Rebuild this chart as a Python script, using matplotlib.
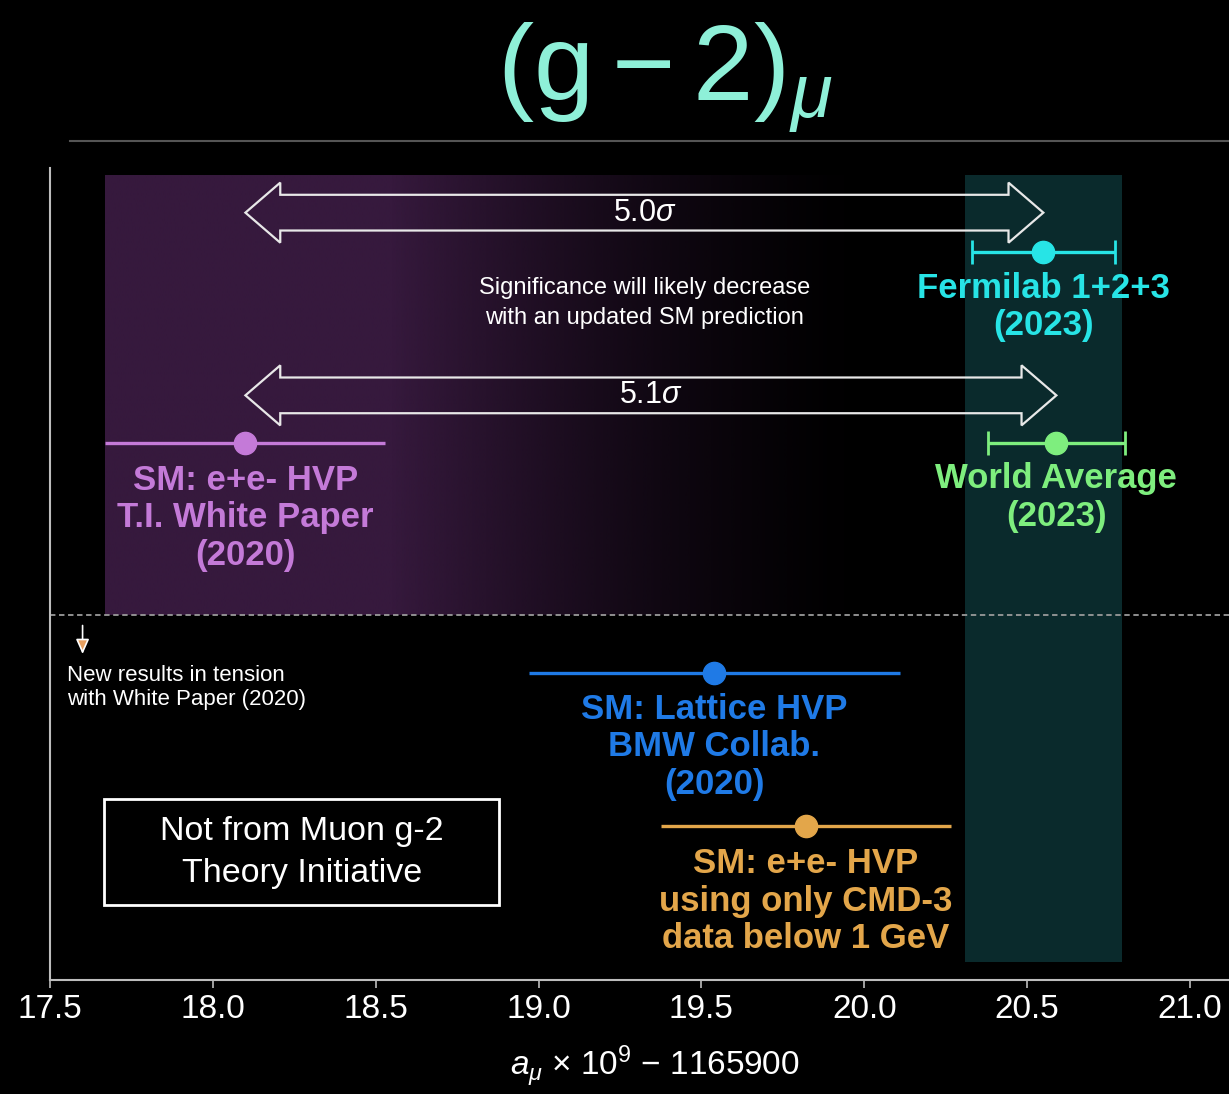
import numpy as np
import matplotlib
matplotlib.use("Agg")
import matplotlib.pyplot as plt
from matplotlib import font_manager
from matplotlib.patches import Polygon, Rectangle
from matplotlib.colors import to_rgb

# ---- data (a_mu x 1e9 - 1165900) ----
labels = [
    "Fermilab 1+2+3\n(2023)",
    "World Average\n(2023)",
    "SM: e+e- HVP\nT.I. White Paper\n(2020)",
    "SM: Lattice HVP\nBMW Collab.\n(2020)",
    "SM: e+e- HVP\nusing only CMD-3\ndata below 1 GeV",
]
values = [20.55, 20.59, 18.10, 19.54, 19.82]
errors = [0.22, 0.21, 0.43, 0.57, 0.445]
colors = ["#27e4e6", "#7eee7e", "#c47ad8", "#1f7ae6", "#e3a64a"]
has_caps = [True, True, False, False, False]

# row layout (vertical positions, arbitrary units)
rows = [8.97, 6.61, 6.61, 3.78, 1.90]
label_rows = [8.29, 5.94, 5.69, 2.87, 0.97]

sigma_labels = ["5.0$\\sigma$", "5.1$\\sigma$"]
sigma_pairs = [(2, 0), (2, 1)]   # (from, to) indexes into values
sigma_rows = [9.45, 7.20]

teal_band = (20.31, 20.79)
xticks = [17.5, 18.0, 18.5, 19.0, 19.5, 20.0, 20.5, 21.0]

# ---- fonts ----
names = {f.name for f in font_manager.fontManager.ttflist}
narrow = "Liberation Sans Narrow" if "Liberation Sans Narrow" in names else "Liberation Sans"
plt.rcParams["font.family"] = ["Liberation Sans", "DejaVu Sans"]
plt.rcParams["mathtext.fontset"] = "custom"
plt.rcParams["mathtext.rm"] = "Liberation Sans"
plt.rcParams["mathtext.it"] = "Liberation Sans:italic"

fig = plt.figure(figsize=(12.29, 10.94), dpi=100, facecolor="black")
ax = fig.add_axes([50 / 1229, 1 - 980 / 1094, 1 - 50 / 1229, (980 - 168) / 1094])
ax.set_facecolor("black")
ax.set_xlim(17.5, 21.12)
ax.set_ylim(0, 10)

# ---- background bands ----
ax.axvspan(teal_band[0], teal_band[1], ymin=0.022, ymax=0.991, color="#0a2a2c", lw=0, zorder=0)

wp_lo = values[2] - errors[2]
grad_x = np.linspace(wp_lo, teal_band[0], 400)
fade = np.clip((20.05 - grad_x) / (20.05 - 18.55), 0, 1) ** 1.5
purple = np.zeros((1, grad_x.size, 4))
purple[..., :3] = to_rgb("#36193d")
purple[..., 3] = fade
ax.imshow(purple, extent=[wp_lo, teal_band[0], 4.5, 9.91], aspect="auto",
          interpolation="bilinear", zorder=0.5)

ax.axhline(4.5, color="#9a9a9a", lw=1.3, ls=(0, (3, 2)), zorder=1)

# ---- significance arrows ----
head_len = 0.107
body_h = 0.22
head_h = 0.37
for lab, (i0, i1), yc in zip(sigma_labels, sigma_pairs, sigma_rows):
    x0, x1 = values[i0], values[i1]
    verts = [
        (x0, yc), (x0 + head_len, yc + head_h), (x0 + head_len, yc + body_h),
        (x1 - head_len, yc + body_h), (x1 - head_len, yc + head_h), (x1, yc),
        (x1 - head_len, yc - head_h), (x1 - head_len, yc - body_h),
        (x0 + head_len, yc - body_h), (x0 + head_len, yc - head_h),
    ]
    ax.add_patch(Polygon(verts, closed=True, fill=False, ec="#e8e8e8", lw=1.6, zorder=2))
    ax.text((x0 + x1) / 2, yc, lab, color="white", fontsize=22,
            ha="center", va="center", zorder=3)

ax.text((values[2] + values[0]) / 2, 8.34,
        "Significance will likely decrease\nwith an updated SM prediction",
        color="white", fontsize=17, ha="center", va="center", linespacing=1.45, zorder=3)

# ---- measurements ----
for lab, v, e, c, cap, y, ly in zip(labels, values, errors, colors, has_caps, rows, label_rows):
    ax.errorbar(v, y, xerr=e, fmt="o", color=c, ms=16, elinewidth=2.4,
                capsize=8.6 if cap else 0, capthick=2, zorder=4)
    ax.text(v, ly, lab, color=c, fontsize=25, fontweight="bold",
            ha="center", va="center", linespacing=1.18, zorder=4)

# ---- annotations ----
ax.annotate("", xy=(17.60, 3.98), xytext=(17.60, 4.40),
            arrowprops=dict(arrowstyle="-|>,head_length=0.9,head_width=0.4",
                            ec="white", fc="#e8a060", lw=1.2))
ax.text(17.552, 3.60, "New results in tension\nwith White Paper (2020)",
        color="white", fontsize=16, ha="left", va="center", linespacing=1.2)

ax.add_patch(Rectangle((17.666, 0.92), 1.214, 1.31, fill=False, ec="white", lw=2, zorder=3))
ax.text(18.274, 1.57, "Not from Muon g-2\nTheory Initiative", color="white",
        fontsize=24.5, ha="center", va="center", linespacing=1.45, zorder=3)

# ---- axes styling ----
for s in ["top", "right"]:
    ax.spines[s].set_visible(False)
for s in ["left", "bottom"]:
    ax.spines[s].set_color("#bdbdbd")
    ax.spines[s].set_linewidth(1.5)
ax.set_yticks([])
ax.set_xticks(xticks)
ax.set_xticklabels([f"{t:.1f}" for t in xticks], fontfamily=narrow, fontsize=24, color="white")
ax.tick_params(axis="x", colors="#bdbdbd", length=6, width=1.2, pad=4, labelcolor="white")
ax.set_xlabel(r"$a_{\mu}$ × 10$^{9}$ − 1165900", fontfamily=narrow, fontsize=24, color="white")
ax.xaxis.set_label_coords((655 - 50) / 1179, -0.078)

# ---- title and separator ----
fig.text(665 / 1229, 1 - 78 / 1094, r"$(\mathrm{g}-2)_{\mu}$", color="#8ef0d8", fontsize=78,
         ha="center", va="center")
fig.add_artist(plt.Line2D([70 / 1229, 1.0], [1 - 141 / 1094] * 2, color="#555555", lw=1.5))

fig.savefig("out.png", dpi=100, facecolor="black")
